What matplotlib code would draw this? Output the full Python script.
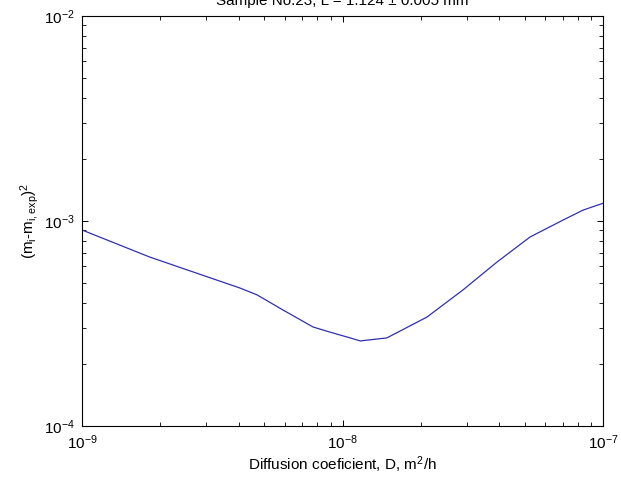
import numpy as np
import matplotlib
matplotlib.use("Agg")
import matplotlib.pyplot as plt

plt.rcParams['font.family'] = ['Liberation Sans', 'DejaVu Sans']
plt.rcParams['mathtext.fontset'] = 'custom'
plt.rcParams['mathtext.rm'] = 'Liberation Sans'
plt.rcParams['mathtext.it'] = 'Liberation Sans:italic'

# diffusion coefficient D [m2/h] and squared error
D = [1.0e-9, 1.82e-9, 4.04e-9, 4.70e-9, 5.91e-9, 7.71e-9, 8.96e-9, 1.07e-8,
     1.17e-8, 1.48e-8, 2.11e-8, 2.90e-8, 3.92e-8, 5.25e-8, 7.02e-8, 8.38e-8, 1.0e-7]
err = [9.04e-4, 6.67e-4, 4.71e-4, 4.36e-4, 3.68e-4, 3.04e-4, 2.87e-4, 2.69e-4,
       2.60e-4, 2.69e-4, 3.40e-4, 4.61e-4, 6.31e-4, 8.36e-4, 1.01e-3, 1.13e-3, 1.22e-3]

fig = plt.figure(figsize=(6.21, 4.83), dpi=100)
ax = fig.add_axes([82/621, 57/483, 521/621, 410/483])

ax.plot(D, err, color='#3030b0', lw=0.9)
ax.set_xscale('log')
ax.set_yscale('log')
ax.set_xlim(1e-9, 1e-7)
ax.set_ylim(1e-4, 1e-2)

ax.tick_params(which='both', direction='in', top=True, right=True, labelsize=11)
ax.tick_params(which='major', length=4, width=0.7, pad=5)
ax.tick_params(which='minor', length=3, width=0.6)
for s in ax.spines.values():
	s.set_linewidth(0.8)

ax.set_xlabel(r'Diffusion coeficient, D, m$^2$/h', fontsize=11, labelpad=2)
ax.set_ylabel(r'(m$_\mathrm{i}$-m$_\mathrm{i,exp}$)$^2$', fontsize=11, labelpad=2)

# title is partly cut off by the top edge in the original
fig.text(342/621, 1 - 5/483, 'Sample No.23, L = 1.124 \u00b1 0.005 mm',
	ha='center', va='baseline', fontsize=11)

fig.savefig('out.png', dpi=100)
